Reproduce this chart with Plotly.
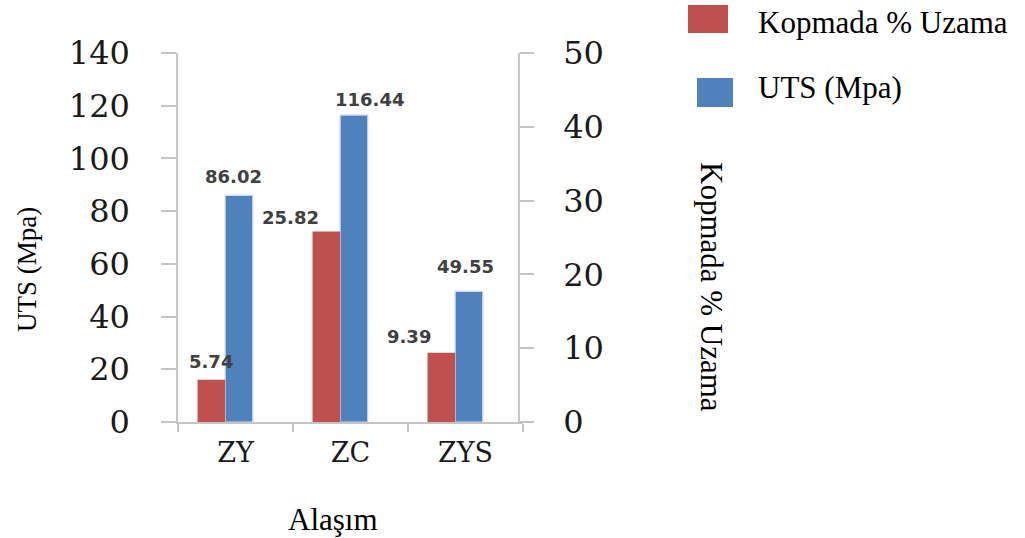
import plotly.graph_objects as go

# Alloy groups and measured properties
alloys = ["ZY", "ZC", "ZYS"]
uts_mpa = [86.02, 116.44, 49.55]          # UTS (Mpa), left axis
elongation_pct = [5.74, 25.82, 9.39]      # Kopmada % Uzama, right axis

uts_ticks = [0, 20, 40, 60, 80, 100, 120, 140]
elong_ticks = [0, 10, 20, 30, 40, 50]

RED = "#c0504d"
BLUE = "#4f81bd"
AXIS_GRAY = "#c4c4c4"
LABEL_GRAY = "#3a3a3a"

W, H = 1025, 538
ML, MR, MT, MB = 178, 1025 - 523, 53, 538 - 422


def px_x(p):
    return (p - ML) / (W - ML - MR)


def px_y(p):
    return (H - MB - p) / (H - MT - MB)


fig = go.Figure()

fig.add_trace(go.Bar(
    x=alloys, y=elongation_pct, yaxis="y2", name="Kopmada % Uzama",
    marker=dict(color=RED, line=dict(width=0)),
    offset=-0.33, width=0.24, showlegend=False,
))
fig.add_trace(go.Bar(
    x=alloys, y=uts_mpa, yaxis="y", name="UTS (Mpa)",
    marker=dict(color=BLUE, line=dict(color="#c9d7ec", width=1.2)),
    offset=-0.09, width=0.24, showlegend=False,
))

# value labels: horizontal / vertical shifts in pixels from the category centre / bar top
red_dx = [-25, -60, -57]
red_dy = [18, 14, 16]
blue_dx = [-2, 19, 0]
blue_dy = [19, 16, 25]

label_font = dict(family="DejaVu Sans", size=18, color="#404040", weight="bold")
annotations = []
for i, a in enumerate(alloys):
    annotations.append(dict(
        x=a, xref="x", y=elongation_pct[i], yref="y2",
        text=f"{elongation_pct[i]:.2f}", showarrow=False,
        xshift=red_dx[i], yshift=red_dy[i],
        xanchor="center", yanchor="middle", font=label_font,
    ))
    annotations.append(dict(
        x=a, xref="x", y=uts_mpa[i], yref="y",
        text=f"{uts_mpa[i]:.2f}", showarrow=False,
        xshift=blue_dx[i], yshift=blue_dy[i],
        xanchor="center", yanchor="middle", font=label_font,
    ))

serif = "Liberation Serif"

# axis titles
annotations.append(dict(
    x=px_x(27), y=px_y(270), xref="paper", yref="paper", text="UTS (Mpa)",
    textangle=-90, showarrow=False, xanchor="center", yanchor="middle",
    font=dict(family=serif, size=27, color="black"),
))
annotations.append(dict(
    x=px_x(712), y=px_y(287), xref="paper", yref="paper", text="Kopmada % Uzama",
    textangle=90, showarrow=False, xanchor="center", yanchor="middle",
    font=dict(family=serif, size=31, color="black"),
))
annotations.append(dict(
    x=px_x(333), y=px_y(519), xref="paper", yref="paper", text="Alaşım",
    showarrow=False, xanchor="center", yanchor="middle",
    font=dict(family=serif, size=31, color="black"),
))

# legend entries
legend_items = [("Kopmada % Uzama", RED, (688, 5, 728, 33), 22),
                ("UTS (Mpa)", BLUE, (697, 78, 733, 107), 88)]
shapes = []
for text, color, (x0, y0, x1, y1), ty in legend_items:
    shapes.append(dict(
        type="rect", xref="paper", yref="paper",
        x0=px_x(x0), x1=px_x(x1), y0=px_y(y1), y1=px_y(y0),
        fillcolor=color, line=dict(width=0), layer="above",
    ))
    annotations.append(dict(
        x=px_x(756), y=px_y(ty), xref="paper", yref="paper", text=text,
        showarrow=False, xanchor="left", yanchor="middle",
        font=dict(family=serif, size=31, color="black"),
    ))

tick_font = dict(family="DejaVu Serif", size=32, color="#1a1a1a")

fig.update_layout(
    width=W, height=H,
    margin=dict(l=ML, r=MR, t=MT, b=MB, pad=0),
    paper_bgcolor="white", plot_bgcolor="white",
    barmode="overlay",
    xaxis=dict(
        type="category", range=[-0.5, 2.5],
        showline=True, linecolor=AXIS_GRAY, linewidth=1.5,
        ticks="outside", tickson="boundaries", ticklen=8, tickcolor=AXIS_GRAY, tickwidth=1.5,
        showgrid=False, zeroline=False,
        tickfont=dict(family="DejaVu Serif", size=27, color="#1a1a1a"),
        ticklabelstandoff=6,
    ),
    yaxis=dict(
        range=[0, 140], tickvals=uts_ticks,
        showline=True, linecolor=AXIS_GRAY, linewidth=1.5,
        ticks="outside", ticklen=15, tickcolor=AXIS_GRAY, tickwidth=1.5,
        showgrid=False, zeroline=False,
        tickfont=tick_font, ticklabelstandoff=25,
    ),
    yaxis2=dict(
        range=[0, 50], tickvals=elong_ticks,
        overlaying="y", side="right", anchor="free", position=px_x(519),
        showline=True, linecolor=AXIS_GRAY, linewidth=1.5,
        ticks="outside", ticklen=14, tickcolor=AXIS_GRAY, tickwidth=1.5,
        showgrid=False, zeroline=False,
        tickfont=tick_font, ticklabelstandoff=23,
    ),
    annotations=annotations,
    shapes=shapes,
)

fig.write_html("out.html")
